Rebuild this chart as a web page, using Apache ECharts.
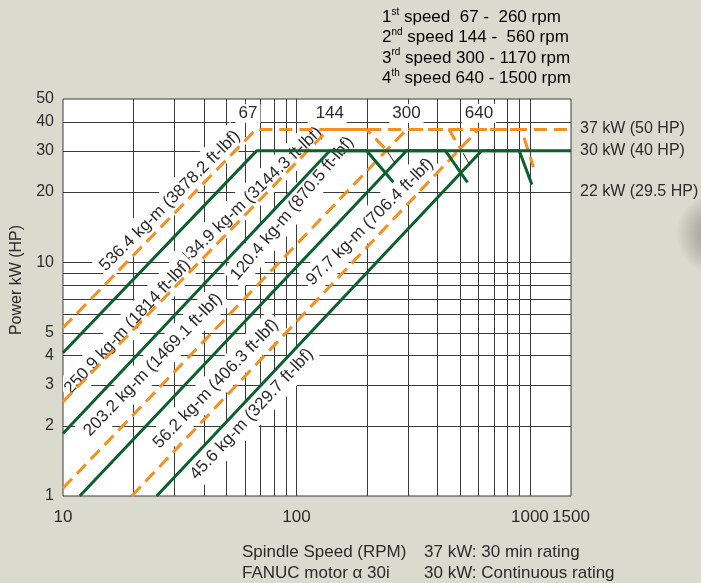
<!DOCTYPE html>
<html>
<head>
<meta charset="utf-8">
<script src="https://cdn.jsdelivr.net/npm/echarts@6/dist/echarts.min.js"></script>
<style>
  html, body { margin: 0; padding: 0; background: #dadacf; }
  #chart { width: 701px; height: 583px; }
</style>
</head>
<body>
<div id="chart"></div>
<script>
// Spindle power vs. speed, FANUC alpha 30i, four gear ranges (log-log)
const FONT = '"Liberation Sans", Arial, Helvetica, sans-serif';
const INK = '#2b2b2b';
const GRID_INK = '#3a3a3a';
const GREEN = '#0b602d';
const ORANGE = '#f5901f';

// axis tick labels and grid values
const rpmLabels = [10, 100, 1000, 1500];
const kwLabels = [1, 2, 3, 4, 5, 10, 20, 30, 40, 50];
const rpmGridLines = [20, 30, 40, 50, 60, 70, 80, 90, 100, 200, 300, 400, 500, 600, 700, 800, 900, 1000];
const kwGridLines = [2, 3, 4, 5, 6, 7, 8, 9, 10, 20, 30, 40];

// continuous rating (30 kW), [rpm, kW]
const cont1 = [[10, 4.1], [67.5, 30], [200, 30], [260, 22]];
const cont2 = [[10, 1.85], [139, 30], [435, 30], [540, 22]];
const cont3 = [[11.8, 1], [296, 30], [900, 30], [1020, 21.5]];
const cont4 = [[25.2, 1], [621, 30], [1500, 30]];

// 30 min rating (37 kW), [rpm, kW]
const short1 = [[10, 5.25], [67, 37], [200, 37], [245, 30]];
const short2 = [[10, 2.53], [137, 37], [450, 37], [510, 30]];
const short3 = [[10, 1.08], [296, 37], [920, 37], [1035, 25.6]];
const short4 = [[19.7, 1], [600, 37], [1500, 37]];

// thin leader strokes below the rating drop-offs
const leader1 = [[245, 29.8], [264, 26.6]];
const leader2 = [[518, 29.3], [553, 26.1]];

// torque annotations along the constant-torque lines
const torqueText = [
  '536.4 kg-m (3878.2 ft-lbf)',
  '434.9 kg-m (3144.3 ft-lbf)',
  '250.9 kg-m (1814 ft-lbf)',
  '203.2 kg-m (1469.1 ft-lbf)',
  '120.4 kg-m (870.5 ft-lbf)',
  '97.7 kg-m (706.4 ft-lbf)',
  '56.2 kg-m (406.3 ft-lbf)',
  '45.6 kg-m (329.7 ft-lbf)'
];
const torqueAt = [[28.7, 18.3], [63.8, 19.2], [18.9, 5.3], [24.3, 3.64], [96, 17.0], [206.6, 14.9], [45.2, 3.02], [64.4, 2.24]];
const torqueTilt = [45, 44, 47, 46, 50, 45, 46, 47];

// base speed of each gear, written above the 37 kW line
const baseSpeedText = ['67', '144', '300', '640'];
const baseSpeedAt = [[62, 43.3], [139, 43.3], [296, 43.3], [605, 43.3]];

const gearOrdinal = [['1', 'st'], ['2', 'nd'], ['3', 'rd'], ['4', 'th']];
const gearRange = [' speed  67 -  260 rpm', ' speed 144 -  560 rpm', ' speed 300 - 1170 rpm', ' speed 640 - 1500 rpm'];

const ratingText = ['37 kW (50 HP)', '30 kW (40 HP)', '22 kW (29.5 HP)'];

const chart = echarts.init(document.getElementById('chart'), null, { renderer: 'canvas' });

function powerLine(data, color, dashed) {
  return {
    type: 'line',
    data: data,
    showSymbol: false,
    symbol: 'none',
    silent: true,
    z: 4,
    lineStyle: { color: color, width: 3, type: dashed ? [13, 7] : 'solid', cap: 'butt' }
  };
}

function thinLine(data) {
  return {
    type: 'line', data: data, symbol: 'none', silent: true, z: 4,
    lineStyle: { color: '#222', width: 1 }
  };
}

const crisp = v => Math.round(v) + 0.5;

// grid rules, then the white-backed annotations that sit over them
function renderBackdrop(params, api) {
  const children = [];
  rpmGridLines.forEach(v => {
    const a = api.coord([v, 1]);
    const b = api.coord([v, 50]);
    children.push({
      type: 'line', silent: true, z2: 1,
      shape: { x1: crisp(a[0]), y1: a[1], x2: crisp(b[0]), y2: b[1] },
      style: { stroke: GRID_INK, lineWidth: 1 }
    });
  });
  kwGridLines.forEach(v => {
    const a = api.coord([10, v]);
    const b = api.coord([1500, v]);
    children.push({
      type: 'line', silent: true, z2: 1,
      shape: { x1: a[0], y1: crisp(a[1]), x2: b[0], y2: crisp(b[1]) },
      style: { stroke: GRID_INK, lineWidth: 1 }
    });
  });
  torqueText.forEach((t, i) => {
    const p = api.coord(torqueAt[i]);
    children.push({
      type: 'text', silent: true, z2: 10,
      x: p[0], y: p[1], rotation: torqueTilt[i] * Math.PI / 180,
      style: {
        text: t, fill: INK, fontFamily: FONT, fontSize: 17,
        align: 'center', verticalAlign: 'middle',
        backgroundColor: '#ffffff', padding: [5, 3]
      }
    });
  });
  baseSpeedText.forEach((t, i) => {
    const p = api.coord(baseSpeedAt[i]);
    children.push({
      type: 'text', silent: true, z2: 10,
      x: p[0], y: p[1],
      style: {
        text: t, fill: INK, fontFamily: FONT, fontSize: 17,
        align: 'center', verticalAlign: 'middle',
        backgroundColor: '#ffffff', padding: [1, 3]
      }
    });
  });
  return { type: 'group', children: children };
}

const textStyle = { fontFamily: FONT, fontSize: 17, fill: INK };

const graphics = [];
gearOrdinal.forEach((o, i) => {
  graphics.push({
    type: 'text', left: 382, top: 7 + i * 20.3, silent: true,
    style: {
      text: '{n|' + o[0] + '}{s|' + o[1] + '}{n|' + gearRange[i] + '}',
      rich: {
        n: { fontFamily: FONT, fontSize: 17, color: INK, lineHeight: 21 },
        s: { fontFamily: FONT, fontSize: 10, color: INK, lineHeight: 13, verticalAlign: 'top' }
      }
    }
  });
});
[129, 151, 192].forEach((y, i) => {
  graphics.push({
    type: 'text', x: 580, y: y, silent: true,
    style: Object.assign({}, textStyle, { text: ratingText[i], verticalAlign: 'middle', fontSize: 16 })
  });
});
graphics.push({
  type: 'text', x: 17, y: 280, rotation: Math.PI / 2, silent: true,
  style: Object.assign({}, textStyle, { text: 'Power kW (HP)', align: 'center', verticalAlign: 'middle', fontSize: 16 })
});
graphics.push(
  { type: 'text', x: 242, y: 552, silent: true, style: Object.assign({}, textStyle, { text: 'Spindle Speed (RPM)', verticalAlign: 'middle' }) },
  { type: 'text', x: 242, y: 573, silent: true, style: Object.assign({}, textStyle, { text: 'FANUC motor \u03b1 30i', verticalAlign: 'middle' }) },
  { type: 'text', x: 424, y: 552, silent: true, style: Object.assign({}, textStyle, { text: '37 kW: 30 min rating', verticalAlign: 'middle' }) },
  { type: 'text', x: 424, y: 573, silent: true, style: Object.assign({}, textStyle, { text: '30 kW: Continuous rating', verticalAlign: 'middle' }) }
);
// soft shadow at the page edge
graphics.push({
  type: 'circle', shape: { cx: 718, cy: 234, r: 42 }, silent: true, z: -1,
  style: {
    fill: new echarts.graphic.RadialGradient(0.5, 0.5, 0.5, [
      { offset: 0, color: 'rgba(70,70,65,0.55)' },
      { offset: 1, color: 'rgba(70,70,65,0)' }
    ])
  }
});

const option = {
  animation: false,
  backgroundColor: '#dadacf',
  grid: {
    left: 63, top: 99, width: 508, height: 397,
    show: true, backgroundColor: '#ffffff', borderColor: '#3a3a3a', borderWidth: 1
  },
  xAxis: {
    type: 'log', logBase: 10, min: 10, max: 1500, z: 5,
    axisLine: { show: false }, axisTick: { show: false }, splitLine: { show: false },
    axisLabel: {
      customValues: rpmLabels, margin: 13,
      fontFamily: FONT, fontSize: 17, color: INK,
      formatter: v => String(v)
    }
  },
  yAxis: {
    type: 'log', logBase: 10, min: 1, max: 50, z: 5,
    axisLine: { show: false }, axisTick: { show: false }, splitLine: { show: false },
    axisLabel: {
      customValues: kwLabels, margin: 9,
      fontFamily: FONT, fontSize: 16, color: INK,
      formatter: v => String(v)
    }
  },
  graphic: graphics,
  series: [
    {
      type: 'custom', z: 1, silent: true, clip: true,
      data: [[10, 1]],
      renderItem: renderBackdrop
    },
    powerLine(short1, ORANGE, true),
    powerLine(short2, ORANGE, true),
    powerLine(short3, ORANGE, true),
    powerLine(short4, ORANGE, true),
    powerLine(cont1, GREEN, false),
    powerLine(cont2, GREEN, false),
    powerLine(cont3, GREEN, false),
    powerLine(cont4, GREEN, false),
    thinLine(leader1),
    thinLine(leader2)
  ]
};

chart.setOption(option);
</script>
</body>
</html>
